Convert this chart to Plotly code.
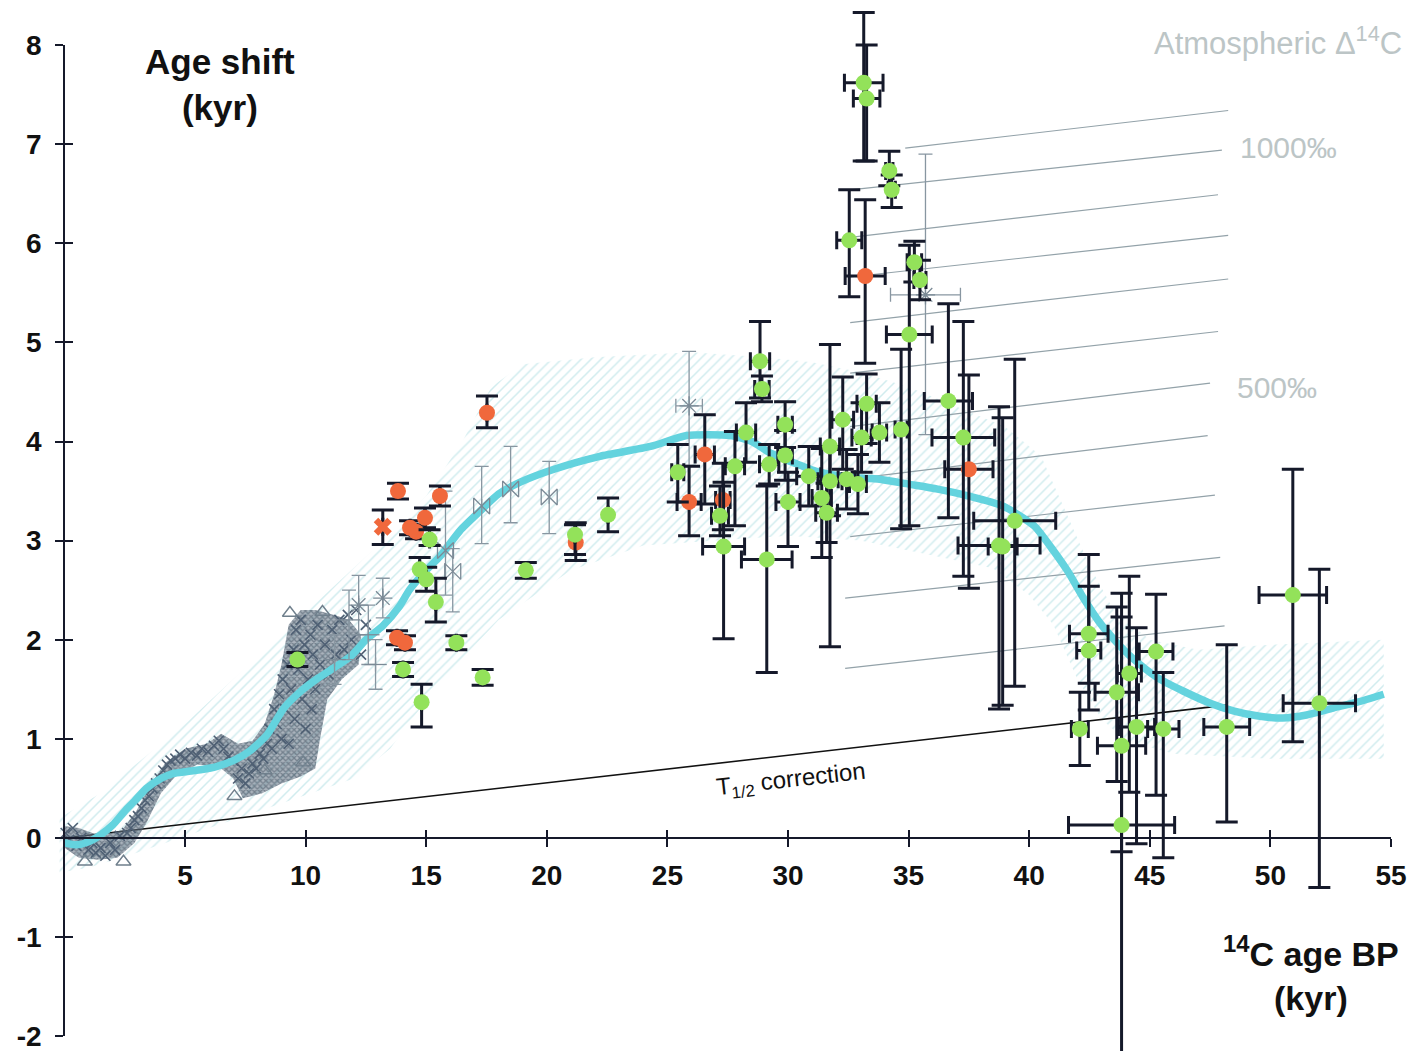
import plotly.graph_objects as go

# ---------------- data (kyr) ----------------
curve_x = [0, 0.5, 1.0, 1.5, 2.0, 2.5, 2.9, 3.4, 4.0, 4.5, 5.1, 5.7, 6.3, 7.0, 7.7, 8.4, 9.1, 9.8, 10.5,
           11.2, 11.9, 12.5, 13.2, 13.9, 14.3, 15.0, 15.6, 16.4, 17.2, 18.0, 18.9, 20.3, 22.2, 24.3, 25.8,
           27.6, 28.5, 29.3, 30.3, 31.3, 32.5, 33.8, 35.0, 36.2, 37.5, 38.9, 40.2, 41.0, 41.6, 42.3, 42.9,
           43.6, 44.3, 45.3, 46.4, 47.5, 48.5, 49.5, 50.5, 51.5, 52.6, 53.6, 54.7]
curve_y = [-0.05, -0.07, -0.04, 0.03, 0.13, 0.27, 0.37, 0.5, 0.6, 0.65, 0.67, 0.69, 0.72, 0.78, 0.88, 1.04,
           1.31, 1.48, 1.61, 1.72, 1.84, 2.0, 2.14, 2.34, 2.5, 2.7, 2.85, 3.1, 3.29, 3.47, 3.59, 3.72, 3.85,
           3.95, 4.06, 4.06, 4.0, 3.88, 3.78, 3.69, 3.64, 3.62, 3.57, 3.52, 3.45, 3.35, 3.15, 2.9, 2.69, 2.4,
           2.18, 1.98, 1.81, 1.62, 1.48, 1.36, 1.28, 1.23, 1.21, 1.24, 1.31, 1.37, 1.45]

band_upper_x = [-0.2, 1.5, 2.9, 5.0, 7.0, 9.0, 11.0, 13.0, 15.0, 16.5, 17.7, 19.0, 22.0, 26.0, 29.0, 31.0,
                33.0, 35.0, 37.0, 39.0, 40.5, 41.5, 42.5, 43.5, 45.0, 47.0, 50.0, 54.7]
band_upper_y = [0.2, 0.45, 0.73, 1.15, 1.6, 2.05, 2.5, 2.95, 3.45, 4.0, 4.55, 4.78, 4.85, 4.9, 4.85, 4.8,
                4.7, 4.55, 4.35, 4.15, 3.85, 3.3, 2.75, 2.3, 2.0, 1.9, 1.95, 2.0]
band_lower_x = [54.7, 50.0, 46.0, 44.0, 43.0, 42.0, 41.0, 40.0, 38.5, 36.0, 33.0, 30.0, 27.0, 24.0, 21.0,
                18.0, 15.5, 13.5, 12.0, 9.0, 6.0, 3.0, 1.0, -0.2]
band_lower_y = [0.8, 0.8, 0.85, 0.98, 1.2, 1.6, 2.15, 2.45, 2.72, 2.85, 3.0, 3.05, 3.0, 2.95, 2.7, 2.2,
                1.55, 0.9, 0.6, 0.35, 0.1, -0.15, -0.3, -0.35]

cloud_x = [0.0, 0.6, 1.5, 2.4, 3.0, 3.6, 4.2, 5.0, 5.9, 6.5, 7.2, 7.8, 8.3, 8.7, 9.0, 9.3, 9.8, 10.4, 11.2,
           11.8, 12.3, 12.2, 11.5, 10.9, 10.6, 10.4, 9.8, 9.0, 8.2, 7.4, 7.0, 6.4, 5.5, 4.6, 4.0, 3.4, 2.9,
           2.2, 1.4, 0.6, 0.0]
cloud_y = [0.12, 0.1, 0.02, 0.08, 0.28, 0.55, 0.76, 0.9, 0.95, 1.05, 0.95, 0.98, 1.15, 1.45, 1.75, 2.15,
           2.3, 2.3, 2.25, 2.2, 2.05, 1.75, 1.6, 1.4, 1.0, 0.7, 0.62, 0.55, 0.45, 0.4, 0.6, 0.72, 0.74, 0.62,
           0.45, 0.15, -0.05, -0.2, -0.22, -0.2, -0.1]

tree_x = [0.05, 0.2, 0.35, 0.5, 0.7, 1.0, 1.15, 1.3, 1.5, 1.7, 1.9, 2.1, 2.3, 2.6, 2.75, 2.9, 3.05, 3.2,
          3.35, 3.5, 3.65, 3.8, 3.95, 4.1, 4.25, 4.4, 4.6, 4.8, 5.0, 5.25, 5.5, 5.7, 5.95, 6.2, 6.4, 6.6,
          6.8, 7.0, 7.2, 7.35, 7.5, 7.65, 7.8, 7.95, 8.1, 8.25, 8.4, 8.5, 8.6, 8.7, 8.8, 8.9, 9.0, 9.05,
          9.15, 9.25, 9.3, 9.4, 9.5, 9.55, 9.6, 9.7, 9.8, 9.85, 9.95, 10.0, 10.1, 10.2, 10.25, 10.3, 10.4,
          10.5, 10.6, 10.8, 10.95, 11.1, 11.25, 11.4, 11.6, 11.75, 11.9, 12.1, 12.3, 12.5]
tree_y = [0.05, -0.02, 0.1, -0.08, 0.0, -0.12, -0.05, -0.15, -0.1, -0.18, -0.05, -0.12, 0.02, 0.05, 0.1,
          0.18, 0.22, 0.3, 0.38, 0.42, 0.5, 0.55, 0.6, 0.68, 0.74, 0.78, 0.8, 0.84, 0.8, 0.86, 0.83, 0.9,
          0.87, 0.93, 0.98, 0.9, 0.82, 0.78, 0.6, 0.7, 0.55, 0.65, 0.75, 0.7, 0.85, 0.8, 0.95, 1.1, 0.9, 1.3,
          1.15, 1.45, 1.0, 1.6, 1.3, 1.75, 0.95, 1.5, 1.9, 1.2, 2.1, 1.7, 2.2, 1.4, 1.95, 1.1, 1.6, 2.05,
          1.3, 1.85, 1.5, 2.15, 1.75, 1.95, 1.65, 2.1, 1.85, 2.2, 1.9, 2.25, 2.0, 2.3, 1.85, 2.15]

tri_x = [0.85, 2.45, 7.05, 8.3, 9.35, 9.9, 10.7]
tri_y = [-0.24, -0.24, 0.42, 0.68, 2.27, 0.76, 2.28]

open_x = [11.2, 11.8, 12.2, 12.6, 12.9, 13.2, 15.8, 16.1, 17.3, 18.5, 20.1, 25.9, 35.7]
open_y = [1.80, 2.20, 2.35, 2.05, 1.75, 2.42, 2.90, 2.69, 3.35, 3.52, 3.44, 4.36, 5.48]
open_eu = [0.25, 0.30, 0.30, 0.30, 0.25, 0.20, 0.60, 0.23, 0.40, 0.43, 0.36, 0.55, 1.42]
open_ed = [0.25, 0.40, 0.30, 0.30, 0.25, 0.20, 0.45, 0.41, 0.38, 0.34, 0.37, 0.60, 1.41]
open_ex = [None, None, None, None, None, None, None, None, None, None, None, 0.55, 1.45]
open_sym = ["line-ew-open", "line-ew-open", "asterisk-open", "line-ew-open", "line-ew-open", "asterisk-open",
            "bowtie-open", "bowtie-open", "bowtie-open", "bowtie-open", "bowtie-open", "asterisk-open",
            "asterisk-open"]

red_x = [13.20, 13.83, 14.33, 14.58, 14.95, 15.57, 17.52, 13.79, 14.12, 21.20, 25.90, 26.55, 27.30, 33.20, 37.50]
red_y = [3.14, 3.50, 3.13, 3.09, 3.23, 3.45, 4.29, 2.02, 1.97, 2.98, 3.39, 3.87, 3.41, 5.67, 3.72]
red_eu = [0.17, 0.08, 0.07, 0.07, 0.10, 0.10, 0.17, 0.07, 0.07, 0.20, 0.36, 0.40, 0.37, 0.77, 0.95]
red_ed = [0.18, 0.08, 0.07, 0.07, 0.10, 0.10, 0.15, 0.07, 0.07, 0.18, 0.34, 0.50, 0.30, 0.88, 1.20]
red_ex = [None, None, None, None, None, None, None, None, None, None, 0.50, 0.40, 0.30, 0.83, 1.00]
red_sym = ["x"] + ["circle"] * 14

green_x = [9.66, 14.04, 14.81, 14.73, 15.00, 15.14, 15.40, 16.25, 17.34, 19.13, 21.17, 22.54, 25.43, 27.18,
           27.33, 27.80, 28.26, 28.84, 28.92, 29.12, 29.22, 29.88, 29.88, 30.00, 30.86, 31.40, 31.60, 31.74,
           31.74, 32.27, 32.43, 32.90, 33.05, 33.26, 33.79, 34.69, 35.03, 36.65, 37.27, 38.75, 38.90, 39.40,
           32.54, 33.14, 33.26, 34.20, 34.30, 35.24, 35.47, 42.10, 42.47, 42.47, 43.63, 43.83, 43.83, 44.15,
           44.45, 45.26, 45.56, 48.19, 50.93, 52.03]
green_y = [1.80, 1.70, 1.37, 2.71, 2.61, 3.01, 2.38, 1.97, 1.62, 2.70, 3.06, 3.26, 3.69, 3.25,
           2.94, 3.75, 4.09, 4.81, 4.53, 2.81, 3.77, 4.17, 3.86, 3.39, 3.65, 3.43, 3.28, 3.95,
           3.60, 4.22, 3.62, 3.57, 4.04, 4.38, 4.09, 4.12, 5.08, 4.41, 4.04, 2.95, 2.94, 3.20,
           6.03, 7.62, 7.46, 6.73, 6.54, 5.81, 5.63, 1.10, 2.06, 1.89, 1.47, 0.93, 0.13, 1.66,
           1.12, 1.88, 1.10, 1.12, 2.45, 1.36]
green_eu = [0.07, 0.07, 0.18, 0.12, 0.12, 0.10, 0.24, 0.07, 0.08, 0.08, 0.10, 0.17, 0.28, 0.30,
            0.65, 0.35, 0.30, 0.40, 0.13, 0.74, 0.20, 0.23, 0.25, 0.30, 0.30, 0.50, 0.30, 1.03,
            0.35, 0.43, 0.30, 0.30, 0.35, 0.30, 0.30, 0.81, 0.90, 0.98, 1.17, 1.40, 1.30, 1.63,
            0.51, 0.71, 0.54, 0.20, 0.15, 0.21, 0.20, 0.37, 0.80, 0.65, 0.86, 1.30, 2.34, 0.98,
            1.00, 0.58, 0.57, 0.83, 1.27, 1.35]
green_ed = [0.07, 0.07, 0.25, 0.12, 0.12, 0.06, 0.20, 0.07, 0.08, 0.08, 0.20, 0.17, 0.30, 0.20,
            0.93, 0.60, 0.30, 0.37, 0.13, 1.14, 0.20, 0.23, 0.25, 0.45, 0.30, 0.60, 0.30, 2.02,
            0.35, 0.50, 0.30, 0.30, 0.35, 0.40, 0.30, 1.00, 1.93, 1.18, 1.40, 1.65, 1.60, 1.67,
            0.57, 0.79, 0.63, 0.15, 0.18, 0.20, 0.20, 0.37, 0.50, 0.60, 0.90, 1.07, 2.60, 1.20,
            1.18, 1.45, 1.30, 0.96, 1.48, 1.86]
green_ex = [None, None, None, None, None, None, None, None, None, None, None, None, 0.25, 0.35,
            0.87, 0.40, 0.40, 0.40, 0.30, 1.05, 0.40, 0.30, 0.30, 0.50, 0.50, 0.40, 0.45, 0.40,
            0.50, 0.45, 0.35, 0.35, 0.40, 0.40, 0.30, 0.25, 0.95, 1.00, 1.30, 1.70, 0.60, 1.70,
            0.52, 0.80, 0.55, 0.15, 0.15, 0.30, 0.25, 0.35, 0.80, 0.50, 0.90, 1.00, 2.20, 0.50,
            0.75, 0.70, 0.65, 0.95, 1.40, 1.50]

# atmospheric D14C isolines: start / end points
iso_x0 = [34.86, 32.58, 32.58, 32.58, 32.58, 32.58, 32.58, 32.58, 32.58, 32.37, 32.37]
iso_y0 = [6.96, 6.54, 6.06, 5.66, 5.20, 4.69, 4.15, 3.62, 3.04, 2.42, 1.71]
iso_x1 = [48.25, 47.99, 47.83, 48.25, 48.25, 47.83, 47.50, 47.40, 47.70, 47.92, 48.10]
iso_y1 = [7.34, 6.94, 6.49, 6.08, 5.64, 5.11, 4.59, 4.06, 3.46, 2.83, 2.14]

tcorr_x = [0.0, 48.2]
tcorr_y = [0.0, 1.34]

xtick_vals = [5, 10, 15, 20, 25, 30, 35, 40, 45, 50, 55]
ytick_vals = [-2, -1, 0, 1, 2, 3, 4, 5, 6, 7, 8]

for a, b in [(curve_x, curve_y), (band_upper_x, band_upper_y), (band_lower_x, band_lower_y),
             (cloud_x, cloud_y), (tree_x, tree_y), (tri_x, tri_y)]:
    assert len(a) == len(b), (len(a), len(b))
for grp in [(open_x, open_y, open_eu, open_ed, open_ex, open_sym),
            (red_x, red_y, red_eu, red_ed, red_ex, red_sym),
            (green_x, green_y, green_eu, green_ed, green_ex)]:
    assert len(set(len(g) for g in grp)) == 1, [len(g) for g in grp]

# ---------------- figure ----------------
W, H = 1414, 1051
X_MIN, X_MAX = -2.670, 55.954
Y_MIN, Y_MAX = -2.150, 8.455
FONT = "Liberation Sans, Arial, Helvetica, sans-serif"
INK = "#15192a"

fig = go.Figure()

# hatched uncertainty band
fig.add_trace(go.Scatter(
    x=band_upper_x + band_lower_x, y=band_upper_y + band_lower_y,
    mode="lines", fill="toself", line=dict(width=0),
    fillcolor="rgba(0,0,0,0)",
    fillpattern=dict(shape="/", fgcolor="#a3dade", bgcolor="rgba(255,255,255,0)", size=7, solidity=0.22),
    hoverinfo="skip"))

# isolines
iso_xs, iso_ys = [], []
for a, b, c, d in zip(iso_x0, iso_y0, iso_x1, iso_y1):
    iso_xs += [a, c, None]
    iso_ys += [b, d, None]
fig.add_trace(go.Scatter(x=iso_xs, y=iso_ys, mode="lines",
                         line=dict(color="#93a2a9", width=1.2), hoverinfo="skip"))

# T1/2 correction line
fig.add_trace(go.Scatter(x=tcorr_x, y=tcorr_y, mode="lines",
                         line=dict(color="#111111", width=1.6), hoverinfo="skip"))

# dense grey tree-ring / varve cloud
fig.add_trace(go.Scatter(
    x=cloud_x, y=cloud_y, mode="lines", fill="toself", line=dict(width=0),
    fillcolor="rgba(80,95,110,0.55)",
    fillpattern=dict(shape="x", fgcolor="#3f4f60", bgcolor="rgba(100,116,132,0.55)", size=4, solidity=0.55),
    hoverinfo="skip"))
fig.add_trace(go.Scatter(x=tree_x, y=tree_y, mode="markers",
                         marker=dict(symbol="x-thin-open", size=10, color="#4f6074",
                                     line=dict(color="#4f6074", width=1.6)),
                         hoverinfo="skip"))
fig.add_trace(go.Scatter(x=tri_x, y=tri_y, mode="markers",
                         marker=dict(symbol="triangle-up-open", size=13, color="#6f7f8c",
                                     line=dict(color="#6f7f8c", width=1.4)),
                         hoverinfo="skip"))

# model curve
fig.add_trace(go.Scatter(x=curve_x, y=curve_y, mode="lines",
                         line=dict(color="#64d3de", width=7.5, shape="spline", smoothing=0.6),
                         hoverinfo="skip"))

# grey open symbols with thin error bars
fig.add_trace(go.Scatter(
    x=open_x, y=open_y, mode="markers",
    marker=dict(symbol=open_sym, size=16, color="#7b8a96", line=dict(color="#7b8a96", width=1.3)),
    error_y=dict(type="data", array=open_eu, arrayminus=open_ed, color="#8896a1", thickness=1.3, width=7),
    error_x=dict(type="data", array=open_ex, color="#8896a1", thickness=1.3, width=7),
    hoverinfo="skip"))

# red points
fig.add_trace(go.Scatter(
    x=red_x, y=red_y, mode="markers",
    marker=dict(symbol=red_sym, size=16, color="#f0683c", line=dict(width=0)),
    error_y=dict(type="data", array=red_eu, arrayminus=red_ed, color=INK, thickness=3, width=11),
    error_x=dict(type="data", array=red_ex, color=INK, thickness=3, width=9),
    hoverinfo="skip"))

# green points
fig.add_trace(go.Scatter(
    x=green_x, y=green_y, mode="markers",
    marker=dict(symbol="circle", size=16, color="#93e25a", line=dict(width=0)),
    error_y=dict(type="data", array=green_eu, arrayminus=green_ed, color=INK, thickness=3, width=11),
    error_x=dict(type="data", array=green_ex, color=INK, thickness=3, width=9),
    hoverinfo="skip"))

# empty traces to create the visible axis subplots
fig.add_trace(go.Scatter(x=[None], y=[None], xaxis="x2", yaxis="y2", hoverinfo="skip"))
fig.add_trace(go.Scatter(x=[None], y=[None], xaxis="x3", yaxis="y3", hoverinfo="skip"))

# annotations
ann = [
    dict(x=6.45, y=7.60, text="<b>Age shift<br>(kyr)</b>", font=dict(size=35, color="#111111", family=FONT)),
    dict(x=51.68, y=-1.37, text="<b><sup>14</sup>C age BP<br>(kyr)</b>",
         font=dict(size=34, color="#111111", family=FONT)),
    dict(x=50.31, y=8.04, text="Atmospheric \u0394<sup>14</sup>C", font=dict(size=31, color="#bcc5c6", family=FONT)),
    dict(x=50.73, y=6.97, text="1000\u2030", font=dict(size=30, color="#bcc5c6", family=FONT)),
    dict(x=50.27, y=4.55, text="500\u2030", font=dict(size=30, color="#bcc5c6", family=FONT)),
    dict(x=30.12, y=0.58, text="T<sub>1/2</sub> correction", textangle=-6.4,
         font=dict(size=24, color="#111111", family=FONT)),
]
for a in ann:
    a.update(xref="x", yref="y", showarrow=False, xanchor="center", yanchor="middle")

xdom = [(0 - X_MIN) / (X_MAX - X_MIN), (55 - X_MIN) / (X_MAX - X_MIN)]
ydom = [(-2 - Y_MIN) / (Y_MAX - Y_MIN), (8 - Y_MIN) / (Y_MAX - Y_MIN)]
x_at_zero = (0 - Y_MIN) / (Y_MAX - Y_MIN)
y_at_zero = (0 - X_MIN) / (X_MAX - X_MIN)
tickfont = dict(size=28, color="#111111", family=FONT, weight="bold")

fig.update_layout(
    width=W, height=H, margin=dict(l=0, r=0, t=0, b=0, pad=0, autoexpand=False),
    paper_bgcolor="white", plot_bgcolor="rgba(0,0,0,0)", showlegend=False,
    annotations=ann,
    xaxis=dict(range=[X_MIN, X_MAX], domain=[0, 1], visible=False, fixedrange=True, automargin=False),
    yaxis=dict(range=[Y_MIN, Y_MAX], domain=[0, 1], visible=False, fixedrange=True, automargin=False),
    xaxis2=dict(range=[0, 55], domain=xdom, anchor="free", position=x_at_zero, automargin=False,
                showline=True, linecolor=INK, linewidth=2.2, showgrid=False, zeroline=False,
                ticks="outside", ticklen=8, tickwidth=2.2, tickcolor=INK,
                tickvals=xtick_vals, ticktext=[str(v) for v in xtick_vals],
                tickfont=tickfont, ticklabelstandoff=4, ticklabeloverflow="allow"),
    yaxis2=dict(range=[-2, 8], domain=ydom, anchor="free", position=y_at_zero, side="left", automargin=False,
                showline=True, linecolor=INK, linewidth=2.2, showgrid=False, zeroline=False,
                ticks="outside", ticklen=8, tickwidth=2.2, tickcolor=INK,
                tickvals=ytick_vals, ticktext=[str(v) for v in ytick_vals],
                tickfont=tickfont, ticklabelstandoff=8, ticklabeloverflow="allow"),
    xaxis3=dict(range=[0, 55], domain=xdom, anchor="free", position=x_at_zero, automargin=False,
                showline=False, showgrid=False, zeroline=False, showticklabels=False,
                ticks="inside", ticklen=8, tickwidth=2.2, tickcolor=INK, tickvals=xtick_vals),
    yaxis3=dict(range=[-2, 8], domain=ydom, anchor="free", position=y_at_zero, side="left", automargin=False,
                showline=False, showgrid=False, zeroline=False, showticklabels=False,
                ticks="inside", ticklen=8, tickwidth=2.2, tickcolor=INK, tickvals=ytick_vals),
)

fig.write_html("out.html", config={"displayModeBar": False},
               post_script="document.body.style.margin='0';document.body.style.overflow='hidden';")
